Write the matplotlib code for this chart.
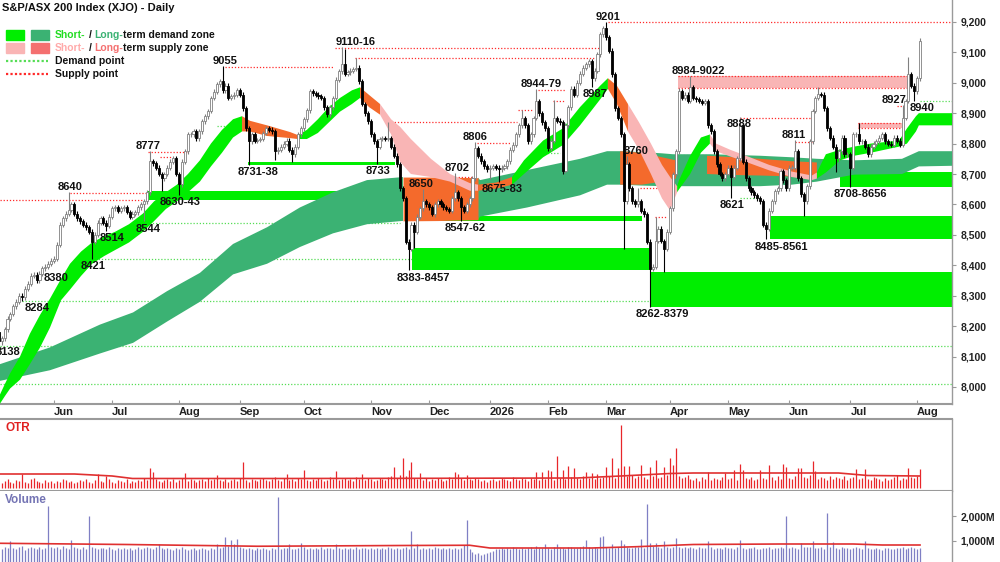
import numpy as np
import pandas as pd
import matplotlib.pyplot as plt
from matplotlib.patches import Rectangle
from matplotlib.lines import Line2D

plt.rcParams['font.family'] = ['Liberation Sans', 'DejaVu Sans']
plt.rcParams['font.weight'] = 'bold'

# ---- trading days (ASX holidays taken out) ----
holidays = ['2025-06-09', '2025-12-25', '2025-12-26', '2026-01-01',
            '2026-01-26', '2026-04-03', '2026-04-06', '2026-06-08']
dates = pd.bdate_range('2025-05-05', '2026-08-04')
dates = dates[~dates.isin(pd.to_datetime(holidays))]

# ---- daily closes ----
closes = [
    8180, 8150, 8160, 8190, 8224, 8240, 8265, 8280, 8300, 8295,
    8323, 8340, 8365, 8369, 8350, 8372, 8390, 8395, 8405, 8415,
    8422, 8468, 8534, 8554, 8570, 8583, 8600, 8570, 8554, 8545,
    8534, 8525, 8511, 8478, 8500, 8540, 8554, 8540, 8530, 8560,
    8587, 8590, 8580, 8587, 8590, 8575, 8560, 8570, 8574, 8590,
    8600, 8610, 8640, 8742, 8735, 8720, 8700, 8686, 8700, 8720,
    8740, 8752, 8700, 8666, 8740, 8775, 8830, 8830, 8840, 8818,
    8840, 8874, 8890, 8907, 8950, 8970, 8995, 9005, 8975, 8990,
    8950, 8955, 8960, 8975, 8960, 8916, 8851, 8808, 8830, 8810,
    8812, 8815, 8835, 8850, 8845, 8840, 8775, 8780, 8790, 8800,
    8810, 8780, 8765, 8790, 8830, 8850, 8880, 8910, 8972, 8965,
    8960, 8955, 8950, 8920, 8896, 8920, 8950, 9010, 9038, 9060,
    9030, 9035, 9040, 9045, 9050, 9005, 8930, 8900, 8874, 8830,
    8808, 8790, 8815, 8818, 8815, 8818, 8790, 8760, 8732, 8653,
    8620, 8478, 8455, 8534, 8510, 8560, 8587, 8610, 8600, 8590,
    8567, 8600, 8610, 8600, 8590, 8585, 8580, 8620, 8640, 8620,
    8590, 8580, 8600, 8620, 8686, 8785, 8760, 8742, 8725, 8715,
    8720, 8725, 8720, 8715, 8720, 8725, 8742, 8780, 8797, 8830,
    8860, 8884, 8860, 8808, 8830, 8884, 8940, 8900, 8870, 8850,
    8785, 8810, 8884, 8875, 8870, 8710, 8860, 8920, 8980, 8960,
    9000, 9030, 9050, 9060, 9070, 9015, 9040, 9093, 9160, 9180,
    9150, 9105, 9028, 8916, 8884, 8830, 8610, 8732, 8653, 8610,
    8600, 8610, 8580, 8567, 8478, 8389, 8395, 8480, 8520, 8480,
    8455, 8510, 8587, 8700, 8775, 8972, 8950, 8960, 8940, 8985,
    8950, 8945, 8940, 8935, 8940, 8860, 8840, 8775, 8732, 8700,
    8686, 8700, 8720, 8690, 8720, 8752, 8860, 8740, 8686, 8653,
    8640, 8630, 8620, 8610, 8534, 8520, 8580, 8610, 8643, 8653,
    8710, 8680, 8653, 8720, 8720, 8775, 8686, 8633, 8610, 8660,
    8808, 8907, 8950, 8962, 8960, 8916, 8850, 8820, 8790, 8752,
    8775, 8820, 8765, 8765, 8720, 8830, 8830, 8808, 8808, 8790,
    8765, 8790, 8800, 8808, 8820, 8830, 8808, 8800, 8797, 8820,
    8810, 8797, 8884, 8940, 9028, 8990, 8972, 9015, 9137,
]
first_open = 8200

# marked highs / lows (day index: price)
high_marks = {25: 8640, 53: 8777, 78: 9055, 119: 9116, 120: 9110, 124: 9081,
              135: 8870, 147: 8650, 158: 8702, 165: 8806, 181: 8910, 186: 8979,
              192: 8944, 210: 9201, 217: 8760, 221: 8653, 227: 8560, 235: 8984,
              239: 9022, 256: 8888, 275: 8811, 283: 8985, 297: 8867, 312: 8927,
              314: 9085, 318: 9148}
low_marks = {2: 8138, 9: 8284, 17: 8380, 33: 8421, 38: 8514, 51: 8544, 57: 8643,
             63: 8630, 87: 8731, 96: 8745, 102: 8738, 131: 8733, 142: 8383,
             144: 8457, 150: 8562, 160: 8547, 170: 8683, 173: 8675, 195: 8700,
             205: 8987, 216: 8455, 225: 8262, 230: 8379, 253: 8621, 265: 8485,
             278: 8561, 289: 8708, 294: 8656, 316: 8940}

# ---- price labels ----
lab_text = ['8138', '8284', '8380', '8421', '8514', '8544', '8640', '8777', '8630-43',
            '9055', '8731-38', '9110-16', '8733', '8383-8457', '8650', '8702', '8806',
            '8547-62', '8675-83', '8944-79', '9201', '8987', '8760', '8262-8379',
            '8984-9022', '8888', '8621', '8811', '8485-8561', '8708-8656', '8927', '8940']
lab_pos = [4.0, 14.1, 20.7, 33.4, 40.0, 52.3, 25.5, 52.3, 63.4, 78.8, 90.2, 123.9,
           131.5, 147.0, 146.3, 158.7, 164.9, 161.4, 174.2, 187.6, 210.6, 206.2,
           220.3, 229.2, 241.6, 255.7, 253.3, 274.6, 270.2, 297.4, 309.0, 318.7]
lab_price = [8138, 8284, 8380, 8421, 8514, 8544, 8640, 8777, 8630, 9055, 8731, 9116,
             8733, 8383, 8650, 8702, 8806, 8547, 8675, 8979, 9201, 8987, 8760, 8262,
             9022, 8888, 8621, 8811, 8485, 8656, 8927, 8940]
lab_side = 'bbbbbbaabababbaaabbaabababbabbab'

# ---- short-term ribbon (g green, o orange, p pink, x change) ----
st_x = [0, 1.4, 3.1, 4.9, 8.3, 11.7, 15.2, 18.6, 22.4, 25.5, 29.3, 33.1, 37.2, 41.0,
        45.8, 50.6, 54.4, 58.5, 62.3, 66.1, 70.2, 74.0, 77.8, 81.6, 84.7, 87.4, 93.3,
        101.2, 103.9, 107.0, 110.8, 114.6, 118.4, 122.5, 125.3, 128.4, 132.2, 136.0,
        139.1, 142.8, 149.7, 156.3, 163.1, 165.9, 172.1, 177.6, 181.7, 188.3, 195.1,
        201.0, 207.9, 210.6, 213.7, 217.5, 221.3, 225.4, 229.2, 232.0, 234.4, 235.1,
        238.9, 242.6, 245.7, 247.8, 252.6, 259.5, 266.1, 273.9, 280.8, 282.5, 285.6,
        290.5, 295.3, 301.1, 305.9, 310.8, 313.5, 316.6, 317.6, 329.0]
st_hi = [7930, 7975, 8010, 8045, 8100, 8175, 8237, 8290, 8355, 8405, 8445, 8475, 8495,
         8510, 8535, 8570, 8610, 8640, 8665, 8700, 8745, 8800, 8845, 8880, 8890, 8875,
         8860, 8838, 8828, 8845, 8880, 8920, 8950, 8975, 8985, 8960, 8930, 8880, 8855,
         8815, 8750, 8700, 8670, 8665, 8672, 8690, 8745, 8810, 8850, 8920, 8990, 9015,
         8990, 8930, 8870, 8800, 8730, 8690, 8660, 8680, 8760, 8820, 8830, 8800, 8780,
         8755, 8730, 8708, 8695, 8705, 8765, 8780, 8790, 8800, 8805, 8810, 8850, 8890,
         8900, 8900]
st_lo = [7880, 7945, 7970, 7995, 8024, 8075, 8130, 8195, 8285, 8320, 8365, 8405, 8430,
         8450, 8475, 8510, 8545, 8585, 8610, 8640, 8675, 8725, 8770, 8820, 8840, 8840,
         8825, 8818, 8815, 8815, 8835, 8870, 8905, 8930, 8950, 8920, 8895, 8830, 8740,
         8700, 8690, 8675, 8645, 8645, 8652, 8665, 8700, 8755, 8795, 8860, 8945, 8980,
         8930, 8840, 8780, 8700, 8620, 8580, 8640, 8650, 8700, 8770, 8800, 8775, 8758,
         8735, 8712, 8690, 8680, 8685, 8705, 8745, 8760, 8770, 8780, 8790, 8800, 8840,
         8860, 8860]
st_state = 'ggggggggggggggggggggggggxoooxgggggxoxppppppxoxgggggxoxppppxgggxppppppxgggggggggg'

# ---- long-term ribbon (g green, o orange, x change) ----
lt_x = [0, 1.4, 18.6, 35.8, 47.2, 58.9, 70.2, 81.6, 93.3, 104.6, 116.0, 127.7, 140.1,
        152.0, 165.9, 166.6, 182.8, 201.0, 210.3, 214.8, 222.3, 229.2, 233.0, 236.8,
        240.9, 245.7, 252.6, 263.0, 273.9, 282.5, 295.3, 311.8, 317.6, 329.0]
lt_hi = [8070, 8075, 8130, 8205, 8245, 8315, 8375, 8470, 8525, 8590, 8640, 8680, 8690,
         8690, 8688, 8680, 8713, 8750, 8775, 8775, 8772, 8768, 8765, 8765, 8765, 8765,
         8763, 8760, 8755, 8750, 8745, 8750, 8775, 8775]
lt_lo = [8015, 8020, 8055, 8110, 8145, 8215, 8280, 8370, 8405, 8460, 8505, 8535, 8546,
         8547, 8550, 8560, 8590, 8630, 8665, 8665, 8662, 8660, 8660, 8660, 8660, 8660,
         8660, 8660, 8665, 8675, 8698, 8700, 8725, 8727]
lt_state = 'ggggggggggggxoxggggggggggggggggggg'

# ---- medium-term bearish band (orange), gap marked with nan ----
mo_x = [214.8, 222.3, 229.2, 234.0, 239.0, 244.7, 252.6, 263.0, 273.9, 282.5]
mo_hi = [8775, 8770, 8755, 8745, np.nan, 8760, 8756, 8750, 8742, 8738]
mo_lo = [8665, 8665, 8675, 8685, np.nan, 8700, 8697, 8695, 8692, 8690]

# ---- demand zones (start, end, low, high) ----
dz_start = [52.0, 86.8, 140.8, 143.2, 225.1, 266.4, 290.5]
dz_end = [139.1, 137.3, 222.3, 225.1, 329.0, 329.0, 329.0]
dz_low = [8615, 8728, 8545, 8383, 8262, 8485, 8656]
dz_high = [8643, 8738, 8562, 8457, 8379, 8561, 8708]

# ---- short-term supply zones ----
sz_start = [234.7, 296.7]
sz_end = [313.9, 311.8]
sz_low = [8984, 8850]
sz_high = [9022, 8867]

# ---- supply points (red dotted) ----
sp_start = [1.4, 25.5, 52.3, 56.5, 78.8, 116.7, 123.6, 134.9, 179.7, 165.6, 158.0,
            147.7, 186.5, 191.8, 210.6, 217.5, 221.6, 226.8, 256.1, 275.0, 310.1]
sp_end = [50.6, 52.0, 65.8, 61.0, 116.0, 207.9, 206.0, 179.3, 184.8, 176.9, 163.8,
          157.3, 195.8, 195.8, 329.0, 234.4, 227.5, 230.9, 281.9, 280.8, 311.8]
sp_price = [8613, 8636, 8771, 8755, 9052, 9114, 9081, 8870, 8910, 8801, 8689, 8646,
            8976, 8940, 9201, 8755, 8653, 8560, 8884, 8804, 8923]

# ---- demand points (green dotted) ----
dp_start = [1.4, 1.4, 9.0, 33.1, 50.6, 76.1, 186.5, 234.4, 256.1, 318.0]
dp_end = [329.0, 329.0, 225.1, 143.2, 139.1, 84.0, 194.1, 244.7, 263.0, 329.0]
dp_price = [8010, 8135, 8284, 8421, 8540, 8858, 8768, 8762, 8621, 8940]

# ---- OTR and volume (millions) ----
otr = [
    6, 8, 5, 7, 9, 6, 5, 8, 7, 14, 6, 5, 9, 10, 7, 6, 5, 8, 6, 7,
    5, 7, 6, 9, 8, 6, 7, 5, 6, 8, 7, 9, 6, 5, 8, 14, 7, 6, 12, 9,
    6, 5, 8, 7, 6, 9, 5, 7, 6, 8, 7, 10, 8, 20, 16, 9, 7, 6, 8, 9,
    7, 9, 6, 8, 10, 15, 7, 9, 8, 6, 8, 9, 7, 10, 8, 9, 13, 8, 7, 9,
    6, 8, 9, 7, 10, 26, 8, 6, 9, 8, 7, 9, 10, 8, 7, 9, 11, 8, 7, 10,
    14, 8, 9, 7, 10, 9, 18, 8, 7, 9, 8, 10, 9, 7, 8, 11, 9, 17, 8, 9,
    10, 8, 9, 7, 11, 9, 14, 8, 10, 9, 7, 8, 10, 9, 8, 11, 12, 21, 10, 13,
    30, 12, 18, 26, 10, 9, 15, 8, 10, 7, 9, 8, 10, 9, 7, 8, 11, 9, 16, 14,
    10, 8, 13, 9, 8, 10, 9, 7, 8, 6, 8, 9, 7, 8, 10, 9, 8, 7, 11, 9,
    8, 10, 9, 7, 10, 9, 16, 8, 16, 9, 18, 17, 8, 32, 10, 18, 9, 22, 11, 20,
    10, 9, 12, 16, 10, 15, 9, 14, 10, 11, 21, 12, 30, 10, 20, 63, 22, 12, 22, 13,
    10, 12, 23, 11, 9, 21, 12, 28, 10, 11, 21, 13, 30, 23, 40, 12, 10, 11, 13, 9,
    8, 10, 7, 11, 9, 16, 8, 10, 9, 8, 11, 15, 9, 10, 18, 8, 24, 18, 10, 9,
    11, 8, 9, 18, 10, 9, 23, 11, 8, 12, 9, 24, 21, 10, 9, 12, 20, 20, 11, 10,
    13, 27, 17, 9, 11, 10, 8, 12, 9, 11, 10, 9, 12, 8, 10, 11, 19, 9, 10, 19,
    9, 8, 11, 10, 9, 7, 10, 8, 9, 11, 13, 8, 10, 9, 20, 11, 10, 12, 19,
]
volume = [
    820, 760, 700, 780, 740, 990, 720, 690, 760, 800, 650, 710, 780, 740, 700, 760, 690, 730, 2410, 780,
    720, 760, 690, 800, 740, 700, 1040, 760, 720, 690, 750, 700, 2000, 760, 720, 690, 740, 710, 680, 760,
    700, 650, 720, 690, 740, 680, 720, 660, 700, 750, 690, 720, 780, 740, 700, 760, 880, 720, 690, 740,
    700, 660, 720, 680, 750, 700, 640, 690, 720, 660, 700, 740, 680, 650, 710, 700, 900, 740, 780, 1170,
    820, 1040, 880, 1100, 760, 720, 690, 740, 700, 660, 720, 680, 740, 700, 650, 720, 690, 2750, 700, 740,
    720, 880, 700, 690, 740, 920, 760, 700, 720, 680, 740, 700, 760, 690, 720, 740, 700, 880, 720, 690,
    740, 700, 720, 680, 760, 700, 720, 740, 690, 720, 680, 740, 700, 720, 690, 760, 720, 700, 740, 690,
    720, 760, 700, 1390, 740, 880, 700, 720, 690, 740, 700, 760, 720, 690, 740, 700, 720, 680, 740, 700,
    720, 850, 1840, 690, 560, 480, 520, 450, 500, 540, 560, 620, 680, 700, 720, 690, 740, 700, 760, 720,
    700, 740, 690, 720, 760, 700, 810, 740, 720, 880, 740, 700, 760, 880, 720, 740, 700, 780, 760, 720,
    740, 760, 800, 1030, 760, 720, 780, 740, 1180, 1200, 760, 740, 880, 720, 780, 1030, 900, 760, 720, 740,
    780, 760, 1070, 720, 2500, 920, 800, 920, 760, 720, 990, 780, 740, 760, 1140, 760, 720, 780, 740, 760,
    720, 700, 760, 740, 720, 990, 760, 700, 740, 720, 680, 760, 720, 740, 700, 760, 1040, 720, 700, 740,
    720, 760, 700, 680, 740, 720, 760, 700, 740, 720, 760, 740, 2010, 720, 760, 740, 700, 920, 760, 780,
    760, 990, 740, 720, 760, 700, 2120, 760, 950, 720, 700, 760, 740, 720, 700, 740, 760, 720, 700, 990,
    720, 700, 680, 740, 700, 660, 720, 740, 700, 680, 720, 740, 760, 700, 720, 760, 740, 700, 730,
]
otr_ma_x = [0, 27, 40, 47, 100, 150, 200, 215, 232, 240, 290, 300, 318]
otr_ma = [14, 14, 12, 9.5, 9.5, 9.7, 10, 12, 14.5, 15, 15, 12.5, 12]
vol_ma_x = [0, 45, 90, 140, 163, 170, 205, 220, 240, 270, 295, 305, 318]
vol_ma = [910, 860, 790, 820, 830, 720, 720, 770, 860, 880, 880, 840, 840]

# ---- colours ----
LIME = '#00ee00'
SEA = '#3bb273'
ORANGE = '#f46a2c'
PINK = '#f9b5b5'
SALMON = '#f47070'
RED = '#ff2a2a'
GREEN_DOT = '#55dd55'
GRAY = '#9a9a9a'


def seg_mask(states, c):
    m = []
    for k, s in enumerate(states):
        if s == c:
            m.append(True)
        elif s == 'x':
            prev = states[k - 1] if k > 0 else ''
            nxt = states[k + 1] if k + 1 < len(states) else ''
            m.append(prev == c or nxt == c)
        else:
            m.append(False)
    return np.array(m)


fig = plt.figure(figsize=(10, 5.62), dpi=100)
ax = fig.add_axes([0, 158 / 562, 0.952, 404 / 562])
ax_otr = fig.add_axes([0, 71 / 562, 0.952, 72 / 562])
ax_vol = fig.add_axes([0, 0, 0.952, 71 / 562])

n = len(closes)
x = np.arange(n)
c = np.array(closes, float)
o = np.r_[first_open, c[:-1]]
hi = np.maximum(o, c) + 8
lo = np.minimum(o, c) - 8
for j, v in high_marks.items():
    hi[j] = v
for j, v in low_marks.items():
    lo[j] = v
up = c >= o

# dotted levels
ax.hlines(dp_price, dp_start, dp_end, colors=GREEN_DOT, linestyles=(0, (1, 1.5)), lw=0.9, zorder=1)
ax.hlines(sp_price, sp_start, sp_end, colors=RED, linestyles=(0, (1, 1.5)), lw=0.9, zorder=1)

# zones
for s, e, l, h in zip(dz_start, dz_end, dz_low, dz_high):
    ax.fill_between([s, e], l, h, color=LIME, lw=0, zorder=2)
for s, e, l, h in zip(sz_start, sz_end, sz_low, sz_high):
    ax.fill_between([s, e], l, h, color=PINK, lw=0, zorder=2)
    ax.hlines([l, h], s, e, colors=RED, linestyles=(0, (1, 1.5)), lw=0.9, zorder=2)

# ribbons
for col, fc in [('g', SEA), ('o', ORANGE)]:
    ax.fill_between(lt_x, lt_hi, lt_lo, where=seg_mask(lt_state, col), color=fc, lw=0, zorder=3)
ax.fill_between(mo_x, mo_hi, mo_lo, color=ORANGE, lw=0, zorder=3.5)
for col, fc in [('g', LIME), ('o', ORANGE), ('p', PINK)]:
    ax.fill_between(st_x, st_hi, st_lo, where=seg_mask(st_state, col), color=fc, lw=0, zorder=4)

# candles
ax.vlines(x[up], lo[up], hi[up], color='#808080', lw=0.8, zorder=5)
ax.vlines(x[~up], lo[~up], hi[~up], color='black', lw=0.8, zorder=5)
ax.bar(x[up], np.maximum(c - o, 2)[up], bottom=o[up], width=0.72, color='white',
       edgecolor='#808080', lw=0.6, zorder=6)
ax.bar(x[~up], (o - c)[~up], bottom=c[~up], width=0.72, color='black',
       edgecolor='black', lw=0.6, zorder=6)

# price labels
for t, p, v, side in zip(lab_text, lab_pos, lab_price, lab_side):
    if side == 'a':
        ax.annotate(t, (p, v), xytext=(0, 1.5), textcoords='offset points', ha='center',
                    va='baseline', fontsize=8, color='#111111', zorder=8)
    else:
        ax.annotate(t, (p, v), xytext=(0, -1.5), textcoords='offset points', ha='center',
                    va='top', fontsize=8, color='#111111', zorder=8)

# axes styling
xl = (1.41, 329.0)
ax.set_xlim(*xl)
ax.set_ylim(7944, 9272)
ax.yaxis.tick_right()
ax.set_yticks(range(8000, 9201, 100))
ax.set_yticklabels([f'{v:,}' for v in range(8000, 9201, 100)])
ax.tick_params(axis='y', direction='out', length=3, color=GRAY, labelsize=7.5, pad=3,
               labelcolor='#222222')
ticks = [i for i in range(1, n) if dates[i].month != dates[i - 1].month]
tlabels = ['2026' if dates[i].month == 1 else dates[i].strftime('%b') for i in ticks]
ax.set_xticks(ticks)
ax.set_xticklabels(tlabels, ha='left')
ax.tick_params(axis='x', direction='in', length=3, color=GRAY, labelsize=8, pad=2.5,
               labelcolor='#222222')
for a in (ax, ax_otr, ax_vol):
    a.spines['left'].set_visible(False)
    a.spines['top'].set_visible(False)
    a.spines['right'].set_color(GRAY)
    a.spines['right'].set_linewidth(1)
    a.spines['bottom'].set_color(GRAY)
    a.spines['bottom'].set_linewidth(1.5)
ax_otr.spines['top'].set_visible(True)
ax_otr.spines['top'].set_color(GRAY)
ax_otr.spines['top'].set_linewidth(1.5)
ax_vol.spines['bottom'].set_visible(False)

# OTR panel
ax_otr.vlines(x, 0, otr, color='#e8262a', lw=0.9)
ax_otr.plot(otr_ma_x, otr_ma, color='#e03030', lw=1.2)
ax_otr.set_xlim(*xl)
ax_otr.set_ylim(-3, 69)
ax_otr.set_xticks([])
ax_otr.set_yticks([])

# volume panel
ax_vol.vlines(x, 0, volume, color='#7f7fc4', lw=0.9)
ax_vol.plot(vol_ma_x, vol_ma, color='#e03030', lw=1.2)
ax_vol.set_xlim(*xl)
ax_vol.set_ylim(160, 3000)
ax_vol.set_xticks([])
ax_vol.yaxis.tick_right()
ax_vol.set_yticks([1000, 2000])
ax_vol.set_yticklabels(['1,000M', '2,000M'])
ax_vol.tick_params(axis='y', direction='out', length=3, color=GRAY, labelsize=7.5, pad=3,
                   labelcolor='#222222')

# titles
fig.text(0.002, 1 - 8 / 562, 'S&P/ASX 200 Index (XJO) - Daily', fontsize=8, va='center',
         ha='left', color='#111111')
fig.text(0.005, 1 - 428 / 562, 'OTR', fontsize=8.5, va='center', color='#e02020')
fig.text(0.005, 1 - 500 / 562, 'Volume', fontsize=8.5, va='center', color='#7474b4')

# legend
H = 562.0
fig.add_artist(Rectangle((6 / 1000, 1 - 40 / H), 18 / 1000, 10 / H, color=LIME, transform=fig.transFigure))
fig.add_artist(Rectangle((31 / 1000, 1 - 40 / H), 18 / 1000, 10 / H, color=SEA, transform=fig.transFigure))
fig.add_artist(Rectangle((6 / 1000, 1 - 53 / H), 18 / 1000, 10 / H, color=PINK, transform=fig.transFigure))
fig.add_artist(Rectangle((31 / 1000, 1 - 53 / H), 18 / 1000, 10 / H, color=SALMON, transform=fig.transFigure))
fig.add_artist(Line2D([6 / 1000, 48 / 1000], [1 - 61 / H] * 2, color=GREEN_DOT, lw=1.6,
                      linestyle=(0, (1, 1)), transform=fig.transFigure))
fig.add_artist(Line2D([6 / 1000, 48 / 1000], [1 - 74 / H] * 2, color=RED, lw=1.6,
                      linestyle=(0, (1, 1)), transform=fig.transFigure))

renderer = fig.canvas.get_renderer()


def color_text(x_px, y_px, pieces):
    xp = x_px
    for s, col, gap in pieces:
        t = fig.text(xp / 1000, 1 - y_px / H, s, color=col, fontsize=7.5, va='center', ha='left')
        xp = t.get_window_extent(renderer).x1 + gap


color_text(55, 35, [('Short-', '#22dd22', 3), ('/', '#111111', 3), ('Long-', SEA, 0),
                    ('term demand zone', '#111111', 0)])
color_text(55, 48, [('Short-', '#ffaaaa', 3), ('/', '#111111', 3), ('Long-', SALMON, 0),
                    ('term supply zone', '#111111', 0)])
color_text(55, 61, [('Demand point', '#111111', 0)])
color_text(55, 74, [('Supply point', '#111111', 0)])

fig.savefig('out.png', dpi=100)
